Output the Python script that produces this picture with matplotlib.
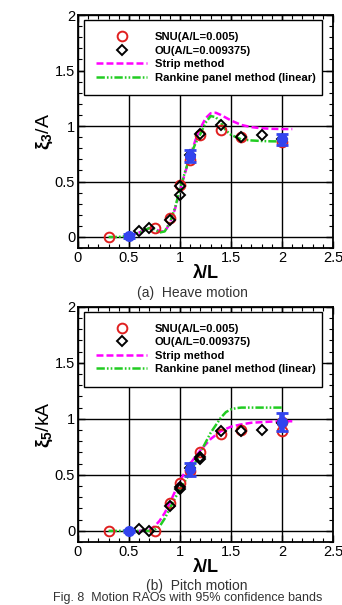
import matplotlib
matplotlib.use("Agg")
import matplotlib.pyplot as plt
from matplotlib.ticker import MultipleLocator

plt.rcParams['font.family'] = ['Liberation Sans', 'DejaVu Sans']
plt.rcParams['mathtext.fontset'] = 'custom'
plt.rcParams['mathtext.rm'] = 'Liberation Sans:bold'
plt.rcParams['mathtext.it'] = 'Liberation Sans:bold'
plt.rcParams['lines.scale_dashes'] = False

# ---- heave data ----
heave_snu_x = [0.3, 0.75, 0.9, 1.0, 1.1, 1.2, 1.4, 1.6, 2.0]
heave_snu_y = [0.0, 0.08, 0.17, 0.47, 0.69, 0.92, 0.96, 0.90, 0.86]
heave_ou_x = [0.6, 0.7, 0.9, 1.0, 1.0, 1.1, 1.2, 1.4, 1.6, 1.8, 2.0]
heave_ou_y = [0.057, 0.085, 0.15, 0.38, 0.46, 0.74, 0.93, 1.01, 0.90, 0.92, 0.88]
heave_ci_x = [0.5, 1.1, 2.0]
heave_ci_y = [0.01, 0.73, 0.88]
heave_ci_err = [0.02, 0.05, 0.05]
heave_strip_x = [0.5, 0.6, 0.7, 0.75, 0.8, 0.85, 0.9, 0.95, 1.0, 1.05, 1.1, 1.15, 1.2, 1.25,
                 1.3, 1.35, 1.4, 1.5, 1.6, 1.7, 1.8, 1.9, 2.0, 2.1]
heave_strip_y = [0.01, 0.04, 0.08, 0.08, 0.05, 0.05, 0.12, 0.25, 0.42, 0.58, 0.73, 0.87, 0.98,
                 1.07, 1.115, 1.12, 1.10, 1.05, 1.01, 0.99, 0.98, 0.975, 0.973, 0.973]
heave_rank_x = [0.3, 0.4, 0.5, 0.6, 0.7, 0.75, 0.8, 0.85, 0.9, 0.95, 1.0, 1.05, 1.1, 1.15, 1.2,
                1.25, 1.3, 1.35, 1.4, 1.45, 1.5, 1.6, 1.7, 1.8, 1.9, 2.0]
heave_rank_y = [0.0, 0.0, 0.01, 0.04, 0.08, 0.07, 0.04, 0.05, 0.13, 0.26, 0.43, 0.59, 0.73,
                0.84, 0.93, 1.03, 1.09, 1.08, 1.03, 0.96, 0.92, 0.88, 0.87, 0.865, 0.862, 0.862]

# ---- pitch data ----
pitch_snu_x = [0.3, 0.75, 0.9, 1.0, 1.1, 1.2, 1.4, 1.6, 2.0, 2.0]
pitch_snu_y = [0.0, 0.0, 0.25, 0.425, 0.53, 0.70, 0.86, 0.90, 0.89, 0.97]
pitch_ou_x = [0.6, 0.7, 0.9, 1.0, 1.0, 1.1, 1.2, 1.2, 1.4, 1.6, 1.8, 2.0]
pitch_ou_y = [0.015, 0.0, 0.22, 0.37, 0.39, 0.56, 0.64, 0.66, 0.89, 0.895, 0.90, 0.96]
pitch_ci_x = [0.5, 1.1, 2.0]
pitch_ci_y = [0.0, 0.55, 0.975]
pitch_ci_err = [0.01, 0.06, 0.08]
pitch_strip_x = [0.5, 0.6, 0.7, 0.75, 0.8, 0.85, 0.9, 0.95, 1.0, 1.1, 1.2, 1.3, 1.4, 1.5,
                 1.6, 1.7, 1.8, 1.9, 2.0, 2.1]
pitch_strip_y = [0.0, 0.0, 0.01, 0.04, 0.09, 0.16, 0.25, 0.35, 0.45, 0.60, 0.72, 0.82, 0.89,
                 0.93, 0.95, 0.965, 0.97, 0.975, 0.978, 0.978]
pitch_rank_x = [0.3, 0.5, 0.6, 0.7, 0.75, 0.8, 0.85, 0.9, 0.95, 1.0, 1.1, 1.2, 1.3, 1.4,
                1.45, 1.5, 1.55, 1.6, 1.8, 2.0]
pitch_rank_y = [0.0, 0.0, 0.0, 0.0, 0.01, 0.04, 0.11, 0.2, 0.29, 0.37, 0.52, 0.70, 0.875,
                1.01, 1.06, 1.085, 1.095, 1.10, 1.10, 1.10]

xticks = [0, 0.5, 1, 1.5, 2, 2.5]
yticks = [0, 0.5, 1, 1.5, 2]
legend_labels = ['SNU(A/L=0.005)', 'OU(A/L=0.009375)', 'Strip method',
                 'Rankine panel method (linear)']

fig = plt.figure(figsize=(3.42, 6.05), dpi=100)
ax1 = fig.add_axes([0.228, 0.590, 0.746, 0.385])
ax2 = fig.add_axes([0.228, 0.104, 0.746, 0.389])


def draw_panel(ax, snu, ou, ci, strip, rank, ylabel):
    h1, = ax.plot(*strip, color='#ff00ff', lw=1.8, dashes=[5, 2.2], zorder=3)
    h2, = ax.plot(*rank, color='#22cc22', lw=1.8, dashes=[6, 1.5, 1.2, 1.5, 1.2, 1.5], zorder=3)
    hs, = ax.plot(*snu, 'o', ms=7, mfc='none', mec='#e02020', mew=1.4, ls='none', zorder=4)
    ho, = ax.plot(*ou, 'D', ms=5, mfc='none', mec='black', mew=1.4, ls='none', zorder=5)
    ax.errorbar(ci[0], ci[1], yerr=ci[2], fmt='o', ms=7, color='#3344ee', ecolor='#3344ee',
                elinewidth=4, capsize=4, capthick=2, zorder=6)
    ax.set_xlim(0, 2.5)
    ax.set_ylim(-0.1, 2)
    ax.set_xticks(xticks)
    ax.set_xticklabels(['0', '0.5', '1', '1.5', '2', '2.5'])
    ax.set_yticks(yticks)
    ax.set_yticklabels(['0', '0.5', '1', '1.5', '2'])
    ax.xaxis.set_minor_locator(MultipleLocator(0.1))
    ax.yaxis.set_minor_locator(MultipleLocator(0.1))
    ax.tick_params(which='both', direction='in', top=True, right=True, labelsize=10.5, pad=2)
    ax.tick_params(which='major', length=5, width=1)
    ax.tick_params(which='minor', length=3, width=0.8)
    ax.grid(True, which='major', color='black', lw=1)
    ax.set_axisbelow(True)
    for s in ax.spines.values():
        s.set_linewidth(1.3)
    ax.set_xlabel('λ/L', fontsize=13, fontweight='bold', labelpad=0)
    ax.set_ylabel(ylabel, fontsize=14, labelpad=0)
    leg = ax.legend([hs, ho, h1, h2], legend_labels, loc='upper left',
                    bbox_to_anchor=(0.024, 0.979, 0.933, 0.0), mode='expand',
                    frameon=True, fancybox=False, edgecolor='black', framealpha=1,
                    prop={'weight': 'bold', 'size': 8.1}, handlelength=4.5,
                    borderpad=1.1, labelspacing=0.3, handletextpad=0.7,
                    borderaxespad=0)
    leg.get_frame().set_linewidth(1.0)
    leg.set_zorder(10)


draw_panel(ax1, (heave_snu_x, heave_snu_y), (heave_ou_x, heave_ou_y),
           (heave_ci_x, heave_ci_y, heave_ci_err), (heave_strip_x, heave_strip_y),
           (heave_rank_x, heave_rank_y), r'$\xi_3$/A')
draw_panel(ax2, (pitch_snu_x, pitch_snu_y), (pitch_ou_x, pitch_ou_y),
           (pitch_ci_x, pitch_ci_y, pitch_ci_err), (pitch_strip_x, pitch_strip_y),
           (pitch_rank_x, pitch_rank_y), r'$\xi_5$/kA')

fig.text(0.563, 1 - 293 / 605, '(a)  Heave motion', ha='center', va='center',
         fontsize=10, color='#333333')
fig.text(0.575, 1 - 586 / 605, '(b)  Pitch motion', ha='center', va='center',
         fontsize=10, color='#333333')
fig.text(0.55, 1 - 598 / 605, 'Fig. 8  Motion RAOs with 95% confidence bands',
         ha='center', va='center', fontsize=9, color='#333333')

fig.savefig('out.png', dpi=100)
